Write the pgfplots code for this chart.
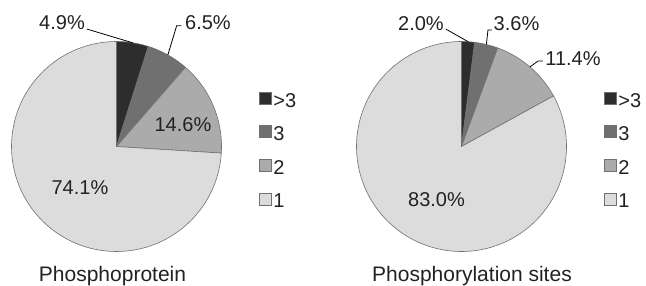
\documentclass[border=0pt]{standalone}
\usepackage{pgfplots}
\pgfplotsset{compat=1.18}
\usepackage{pgfplotstable}
\usepackage{fontspec}
\setmainfont{Liberation Sans}
\definecolor{cA}{HTML}{2D2D2D}
\definecolor{cB}{HTML}{707070}
\definecolor{cC}{HTML}{ABABAB}
\definecolor{cD}{HTML}{DCDCDC}
\definecolor{edge}{HTML}{707070}
\definecolor{txt}{HTML}{222222}

\pgfplotstableread{
cat val col
>3 4.9 cA
3 6.5 cB
2 14.6 cC
1 74.1 cD
}\protein
\pgfplotstableread{
cat val col
>3 2.0 cA
3 3.6 cB
2 11.4 cC
1 83.0 cD
}\sites

\newcommand\drawpie[1]{%
  \pgfplotstablegetrowsof{#1}%
  \pgfmathtruncatemacro\lastrow{\pgfplotsretval-1}%
  \gdef\cum{0}%
  \foreach \i in {0,...,\lastrow}{%
    \pgfplotstablegetelem{\i}{val}\of{#1}\let\pval\pgfplotsretval
    \pgfplotstablegetelem{\i}{col}\of{#1}\let\pcol\pgfplotsretval
    \pgfmathsetmacro\astart{90-3.6*\cum}%
    \pgfmathsetmacro\newcum{\cum+\pval}%
    \pgfmathsetmacro\aend{max(90-3.6*\newcum,-270)}%
    \xdef\cum{\newcum}%
    \filldraw[fill=\pcol, draw=edge, line width=0.6bp]
      (axis cs:0,0) -- ++(\astart:105bp)
      arc[start angle=\astart, end angle=\aend, radius=105bp] -- cycle;
  }%
}

\pgfplotsset{
  pie/.style={
    hide axis, clip=false, scale only axis,
    width=210bp, height=210bp,
    xmin=-1, xmax=1, ymin=-1, ymax=1,
    legend cell align=left,
    legend image code/.code={\draw[##1] (0bp,-4.2bp) rectangle (12bp,7.8bp); \path (14bp,0bp);},
    legend style={draw=none, fill=none, inner sep=0pt, outer sep=0pt,
      at={(axis cs:1.357,0.520)}, anchor=north west,
      row sep=18.4bp,
      font=\fontsize{20bp}{24bp}\selectfont,
      text=txt,
      nodes={inner sep=0pt, outer sep=0pt, text height=14.3bp, text depth=0bp}},
  },
}
\tikzset{
  lbl/.style={font=\fontsize{20bp}{24bp}\selectfont, text=txt, inner sep=0pt},
  ttl/.style={font=\fontsize{21bp}{25bp}\selectfont, text=txt, inner sep=0pt, anchor=base},
  lead/.style={draw=black, line width=0.8bp},
}

\begin{document}
\begin{tikzpicture}
\useasboundingbox (0,0) rectangle (646bp,-286bp);
\begin{axis}[pie, at={(116.5bp,-146.5bp)}, anchor=center]
  \pgfplotsextra{\drawpie{\protein}}
  \addlegendimage{fill=cA, draw=edge}
  \addlegendentry{>3}
  \addlegendimage{fill=cB, draw=edge}
  \addlegendentry{3}
  \addlegendimage{fill=cC, draw=edge}
  \addlegendentry{2}
  \addlegendimage{fill=cD, draw=edge}
  \addlegendentry{1}
  \draw[lead] (axis cs:0.153,0.988) -- (axis cs:-0.284,1.119);
  \draw[lead] (axis cs:0.489,0.872) -- (axis cs:0.573,1.150) -- (axis cs:0.619,1.150);
  \node[lbl] at (axis cs:-0.519,1.176) {4.9\%};
  \node[lbl] at (axis cs:0.871,1.176) {6.5\%};
  \node[lbl] at (axis cs:0.633,0.205) {14.6\%};
  \node[lbl] at (axis cs:-0.348,-0.395) {74.1\%};
  \node[ttl] at (axis cs:-0.038,-1.281) {Phosphoprotein};
\end{axis}
\begin{axis}[pie, at={(461.5bp,-146.5bp)}, anchor=center]
  \pgfplotsextra{\drawpie{\sites}}
  \addlegendimage{fill=cA, draw=edge}
  \addlegendentry{>3}
  \addlegendimage{fill=cB, draw=edge}
  \addlegendentry{3}
  \addlegendimage{fill=cC, draw=edge}
  \addlegendentry{2}
  \addlegendimage{fill=cD, draw=edge}
  \addlegendentry{1}
  \draw[lead] (axis cs:0.063,0.998) -- (axis cs:-0.150,1.119);
  \draw[lead] (axis cs:0.237,0.972) -- (axis cs:0.252,1.110) -- (axis cs:0.290,1.110);
  \draw[lead] (axis cs:0.652,0.758) -- (axis cs:0.729,0.814) -- (axis cs:0.776,0.814);
  \node[lbl] at (axis cs:-0.386,1.167) {2.0\%};
  \node[lbl] at (axis cs:0.524,1.167) {3.6\%};
  \node[lbl] at (axis cs:1.062,0.833) {11.4\%};
  \node[lbl] at (axis cs:-0.238,-0.510) {83.0\%};
  \node[ttl] at (axis cs:0.100,-1.281) {Phosphorylation sites};
\end{axis}
\end{tikzpicture}
\end{document}
